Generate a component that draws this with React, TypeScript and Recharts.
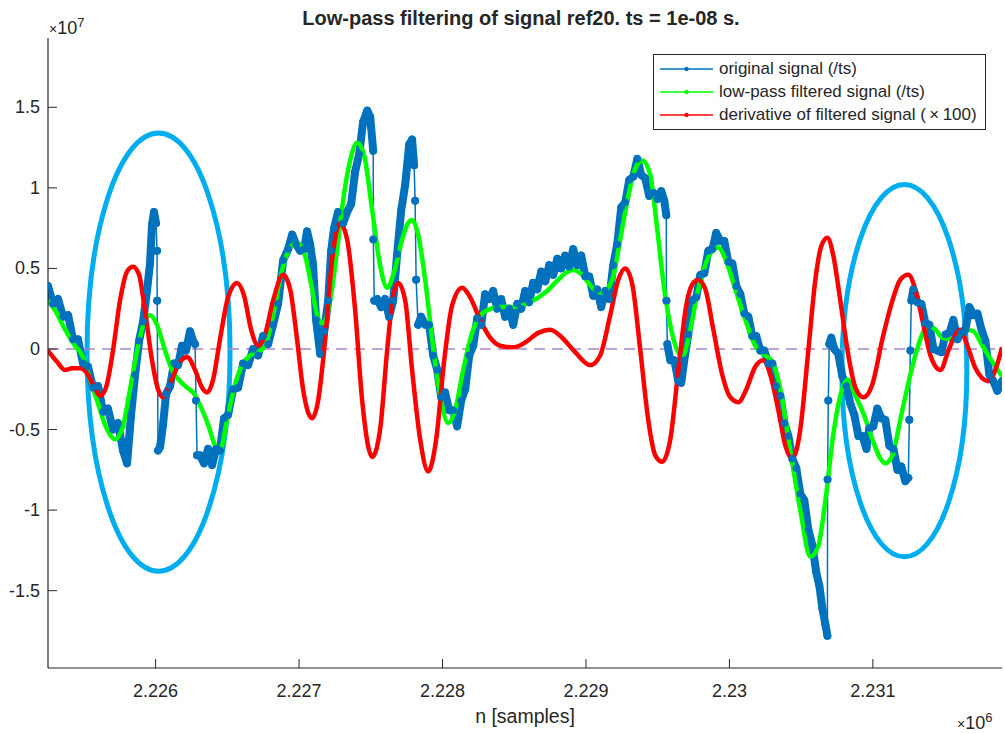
import { LineChart, Line, XAxis, YAxis, ReferenceLine, ReferenceArea, Legend } from 'recharts';

const AXIS = '#262626';
const BLUE = '#0072BD';
const GREEN = '#00FF00';
const RED = '#FF0000';
const RING = '#00AEEF';

const X_DOMAIN: [number, number] = [2225250, 2231900];
const Y_DOMAIN: [number, number] = [-1.98, 1.93];
const xTicks = [2226000, 2227000, 2228000, 2229000, 2230000, 2231000];
const yTicks = [-1.5, -1, -0.5, 0, 0.5, 1, 1.5];

const seriesNames = [
  'original signal (/ts)',
  'low-pass filtered signal (/ts)',
  'derivative of filtered signal (\u2009\u00D7\u2009100)',
];

// sample index n, values in units of 1e7
const origN = [
  2225250, 2225285, 2225320, 2225355, 2225390, 2225424, 2225459, 2225494, 2225529, 2225564,
  2225599, 2225634, 2225668, 2225703, 2225738, 2225773, 2225801, 2225829, 2225857, 2225885,
  2225913, 2225940, 2225961, 2225975, 2225989, 2226003, 2226010, 2226011, 2226017, 2226031,
  2226052, 2226073, 2226101, 2226129, 2226157, 2226184, 2226212, 2226240, 2226261, 2226275,
  2226282, 2226289, 2226310, 2226338, 2226366, 2226394, 2226422, 2226449, 2226477, 2226505,
  2226540, 2226575, 2226610, 2226645, 2226680, 2226714, 2226749, 2226784, 2226819, 2226854,
  2226889, 2226924, 2226952, 2226979, 2227007, 2227035, 2227056, 2227077, 2227098, 2227119,
  2227147, 2227175, 2227203, 2227224, 2227244, 2227272, 2227307, 2227335, 2227363, 2227391,
  2227419, 2227447, 2227475, 2227496, 2227517, 2227518, 2227524, 2227545, 2227572, 2227600,
  2227628, 2227656, 2227684, 2227712, 2227740, 2227768, 2227788, 2227802, 2227809, 2227816,
  2227830, 2227851, 2227879, 2227907, 2227935, 2227963, 2227991, 2228018, 2228046, 2228074,
  2228102, 2228130, 2228158, 2228186, 2228214, 2228242, 2228270, 2228297, 2228325, 2228353,
  2228381, 2228409, 2228437, 2228465, 2228493, 2228521, 2228549, 2228576, 2228604, 2228632,
  2228660, 2228688, 2228716, 2228744, 2228772, 2228800, 2228827, 2228855, 2228883, 2228911,
  2228939, 2228967, 2228995, 2229023, 2229051, 2229078, 2229106, 2229134, 2229162, 2229190,
  2229218, 2229246, 2229274, 2229302, 2229330, 2229358, 2229385, 2229413, 2229441, 2229469,
  2229497, 2229525, 2229546, 2229560, 2229561, 2229567, 2229588, 2229616, 2229644, 2229664,
  2229685, 2229713, 2229741, 2229769, 2229797, 2229825, 2229853, 2229881, 2229908, 2229936,
  2229964, 2229992, 2230020, 2230048, 2230076, 2230104, 2230132, 2230159, 2230187, 2230215,
  2230243, 2230271, 2230299, 2230327, 2230355, 2230383, 2230411, 2230438, 2230466, 2230494,
  2230522, 2230550, 2230578, 2230606, 2230627, 2230648, 2230669, 2230683, 2230684, 2230689,
  2230696, 2230710, 2230731, 2230759, 2230787, 2230815, 2230843, 2230871, 2230899, 2230927,
  2230955, 2230975, 2231003, 2231031, 2231059, 2231087, 2231115, 2231143, 2231171, 2231198,
  2231226, 2231247, 2231254, 2231261, 2231268, 2231282, 2231310, 2231338, 2231366, 2231394,
  2231422, 2231450, 2231478, 2231506, 2231534, 2231561, 2231589, 2231617, 2231645, 2231673,
  2231701, 2231729, 2231757, 2231784, 2231812, 2231840, 2231868, 2231900,
];
const origV = [
  0.39, 0.28, 0.31, 0.20, 0.21, 0.06, 0.06, -0.09, -0.11, -0.24,
  -0.23, -0.39, -0.37, -0.50, -0.46, -0.63, -0.71, -0.41, -0.16, 0.05,
  0.17, 0.36, 0.53, 0.77, 0.85, 0.78, 0.61, 0.30, -0.63, -0.61,
  -0.47, -0.28, -0.23, -0.09, -0.10, 0.02, -0.01, 0.11, 0.05, 0.03,
  -0.32, -0.66, -0.66, -0.71, -0.62, -0.72, -0.62, -0.63, -0.43, -0.41,
  -0.25, -0.24, -0.09, -0.10, 0.00, -0.04, 0.08, 0.03, 0.15, 0.28,
  0.55, 0.62, 0.71, 0.65, 0.61, 0.62, 0.73, 0.65, 0.52, 0.18,
  -0.03, 0.11, 0.30, 0.61, 0.75, 0.85, 0.78, 0.85, 0.90, 1.10,
  1.21, 1.41, 1.48, 1.44, 1.23, 0.68, 0.30, 0.31, 0.26, 0.31,
  0.20, 0.30, 0.59, 0.86, 1.02, 1.27, 1.30, 1.14, 0.92, 0.43,
  0.15, 0.20, 0.15, 0.15, -0.04, -0.13, -0.30, -0.27, -0.38, -0.38,
  -0.48, -0.32, -0.25, -0.04, 0.02, 0.19, 0.15, 0.34, 0.31, 0.36,
  0.25, 0.31, 0.20, 0.25, 0.15, 0.28, 0.25, 0.36, 0.29, 0.41,
  0.37, 0.48, 0.42, 0.52, 0.46, 0.56, 0.50, 0.58, 0.51, 0.62,
  0.52, 0.58, 0.45, 0.45, 0.33, 0.37, 0.26, 0.36, 0.31, 0.52,
  0.65, 0.88, 0.91, 1.05, 1.07, 1.18, 1.08, 1.06, 0.95, 0.97,
  0.93, 0.98, 0.92, 0.83, 0.30, 0.03, -0.07, -0.07, -0.20, -0.21,
  -0.07, 0.09, 0.30, 0.32, 0.46, 0.47, 0.61, 0.62, 0.72, 0.67,
  0.67, 0.54, 0.53, 0.39, 0.34, 0.22, 0.20, 0.08, 0.08, -0.01,
  -0.01, -0.09, -0.09, -0.23, -0.29, -0.46, -0.54, -0.68, -0.74, -0.90,
  -0.94, -1.12, -1.22, -1.39, -1.47, -1.61, -1.71, -1.78, -0.81, -0.32,
  0.03, 0.07, 0.00, -0.03, -0.17, -0.23, -0.34, -0.41, -0.54, -0.54,
  -0.62, -0.49, -0.48, -0.37, -0.43, -0.44, -0.60, -0.62, -0.75, -0.73,
  -0.82, -0.80, -0.44, -0.01, 0.30, 0.37, 0.29, 0.28, 0.16, 0.15,
  0.00, -0.01, -0.02, 0.09, 0.10, 0.18, 0.06, 0.10, 0.12, 0.26,
  0.21, 0.22, 0.12, 0.05, -0.16, -0.20, -0.26, -0.20,
];

const lowN = [
  2225250, 2225299, 2225369, 2225438, 2225494, 2225543, 2225592, 2225647, 2225717, 2225766,
  2225822, 2225878, 2225926, 2225961, 2226010, 2226066, 2226115, 2226171, 2226219, 2226261,
  2226310, 2226366, 2226415, 2226449, 2226498, 2226554, 2226603, 2226659, 2226714, 2226763,
  2226819, 2226882, 2226938, 2226986, 2227042, 2227091, 2227133, 2227168, 2227217, 2227265,
  2227307, 2227356, 2227405, 2227454, 2227510, 2227565, 2227614, 2227663, 2227719, 2227753,
  2227788, 2227830, 2227879, 2227928, 2227984, 2228039, 2228088, 2228144, 2228193, 2228249,
  2228311, 2228402, 2228493, 2228611, 2228716, 2228807, 2228855, 2228911, 2228974, 2229044,
  2229113, 2229183, 2229239, 2229295, 2229344, 2229393, 2229448, 2229497, 2229546, 2229602,
  2229671, 2229727, 2229783, 2229839, 2229881, 2229922, 2229971, 2230041, 2230111, 2230180,
  2230250, 2230299, 2230355, 2230424, 2230494, 2230564, 2230620, 2230669, 2230724, 2230773,
  2230822, 2230878, 2230934, 2230996, 2231052, 2231087, 2231136, 2231191, 2231261, 2231331,
  2231380, 2231436, 2231484, 2231540, 2231596, 2231652, 2231701, 2231764, 2231833, 2231900,
];
const lowV = [
  0.30, 0.24, 0.12, 0.02, -0.05, -0.19, -0.32, -0.47, -0.56, -0.50,
  -0.25, 0.02, 0.18, 0.21, 0.15, -0.01, -0.13, -0.20, -0.24, -0.27,
  -0.35, -0.47, -0.60, -0.63, -0.44, -0.22, -0.10, -0.04, -0.02, 0.02,
  0.21, 0.49, 0.63, 0.66, 0.58, 0.37, 0.19, 0.16, 0.30, 0.61,
  0.92, 1.17, 1.28, 1.20, 0.86, 0.52, 0.38, 0.48, 0.68, 0.77,
  0.80, 0.71, 0.43, 0.06, -0.29, -0.46, -0.38, -0.13, 0.06, 0.19,
  0.24, 0.26, 0.26, 0.29, 0.35, 0.43, 0.47, 0.49, 0.46, 0.38,
  0.35, 0.43, 0.68, 0.95, 1.12, 1.17, 1.08, 0.74, 0.37, 0.09,
  -0.05, 0.12, 0.37, 0.54, 0.61, 0.63, 0.56, 0.37, 0.18, 0.02,
  -0.04, -0.08, -0.25, -0.63, -1.00, -1.29, -1.22, -0.94, -0.53, -0.29,
  -0.19, -0.29, -0.40, -0.56, -0.68, -0.71, -0.66, -0.44, -0.16, 0.06,
  0.15, 0.12, 0.07, 0.06, 0.09, 0.12, 0.11, 0.02, -0.08, -0.17,
];

const derivN = [
  2225250, 2225313, 2225369, 2225417, 2225473, 2225529, 2225578, 2225613, 2225654, 2225703,
  2225752, 2225801, 2225843, 2225885, 2225926, 2225975, 2226017, 2226052, 2226101, 2226157,
  2226219, 2226275, 2226324, 2226359, 2226401, 2226449, 2226505, 2226568, 2226617, 2226666,
  2226714, 2226763, 2226819, 2226889, 2226938, 2226986, 2227028, 2227091, 2227133, 2227182,
  2227230, 2227286, 2227335, 2227391, 2227440, 2227510, 2227565, 2227614, 2227656, 2227691,
  2227740, 2227788, 2227844, 2227900, 2227956, 2228012, 2228067, 2228137, 2228193, 2228263,
  2228332, 2228402, 2228493, 2228576, 2228667, 2228751, 2228834, 2228925, 2229030, 2229099,
  2229169, 2229225, 2229274, 2229323, 2229379, 2229434, 2229483, 2229532, 2229588, 2229644,
  2229699, 2229741, 2229783, 2229832, 2229888, 2229950, 2230006, 2230062, 2230118, 2230180,
  2230236, 2230285, 2230341, 2230390, 2230438, 2230494, 2230550, 2230599, 2230641, 2230683,
  2230724, 2230773, 2230829, 2230878, 2230934, 2230996, 2231066, 2231136, 2231191, 2231247,
  2231296, 2231345, 2231401, 2231471, 2231526, 2231575, 2231610, 2231659, 2231715, 2231805,
  2231854, 2231900,
];
const derivV = [
  -0.01, -0.08, -0.13, -0.12, -0.12, -0.16, -0.25, -0.29, -0.24, -0.01,
  0.30, 0.48, 0.51, 0.46, 0.24, -0.07, -0.25, -0.30, -0.22, -0.10,
  -0.05, -0.13, -0.24, -0.27, -0.19, 0.06, 0.32, 0.41, 0.33, 0.12,
  0.02, 0.09, 0.30, 0.46, 0.37, 0.06, -0.25, -0.43, -0.32, 0.06,
  0.55, 0.78, 0.68, 0.24, -0.32, -0.67, -0.50, -0.01, 0.33, 0.41,
  0.30, -0.13, -0.56, -0.76, -0.56, -0.07, 0.27, 0.38, 0.32, 0.18,
  0.07, 0.02, 0.01, 0.04, 0.10, 0.12, 0.07, -0.02, -0.10, -0.04,
  0.21, 0.43, 0.50, 0.40, -0.01, -0.44, -0.66, -0.70, -0.56, -0.13,
  0.27, 0.40, 0.43, 0.37, 0.12, -0.16, -0.30, -0.33, -0.25, -0.11,
  -0.07, -0.16, -0.38, -0.60, -0.68, -0.50, -0.01, 0.43, 0.64, 0.69,
  0.58, 0.30, -0.04, -0.24, -0.30, -0.22, 0.06, 0.30, 0.43, 0.46,
  0.37, 0.18, -0.04, -0.13, -0.01, 0.09, 0.12, 0.02, -0.12, -0.20,
  -0.13, 0.01,
];

// highlighted regions (n from/to, value from/to)
const ringN = [[2225522, 2226519], [2230784, 2231655]];
const ringV = [[-1.38, 1.34], [-1.29, 1.02]];

const zip = (n: number[], v: number[]) => n.map((x, i) => ({ n: x, v: v[i] as number | null }));
const origData = zip(origN, origV);
const lowData = zip(lowN, lowV);
const derivData = zip(derivN, derivV);

// The dense noisy stretches look like a thick band in the original plot; the sparse
// jumps between them are thin. Break the band wherever consecutive samples jump steeply.
function bandOf(data: { n: number; v: number | null }[]) {
  const out: { n: number; v: number | null }[] = [];
  data.forEach((d, i) => {
    out.push(d);
    const next = data[i + 1];
    if (next && Math.abs((next.v as number) - (d.v as number)) / Math.max(next.n - d.n, 1) > 0.019) {
      out.push({ n: (d.n + next.n) / 2, v: null });
    }
  });
  return out;
}
const bandData = bandOf(origData);

const fmtX = (v: number) => String(v / 1e6);
const fmtY = (v: number) => String(v);

function XTick({ x, y, payload }: any) {
  return (
    <g>
      <line x1={x} y1={y} x2={x} y2={y - 9} stroke={AXIS} strokeWidth={1} />
      <text x={x} y={y + 29} textAnchor="middle" fontSize={18} fill={AXIS}>
        {fmtX(payload.value)}
      </text>
    </g>
  );
}

function YTick({ x, y, payload }: any) {
  return (
    <g>
      <line x1={x} y1={y} x2={x + 9} y2={y} stroke={AXIS} strokeWidth={1} />
      <text x={x - 8} y={y + 6} textAnchor="end" fontSize={18} fill={AXIS}>
        {fmtY(payload.value)}
      </text>
    </g>
  );
}

function Ring(props: any) {
  const { x, y, width, height } = props;
  return (
    <ellipse
      cx={x + width / 2}
      cy={y + height / 2}
      rx={width / 2}
      ry={height / 2}
      fill="none"
      stroke={RING}
      strokeWidth={5}
    />
  );
}

function LegendBox({ payload }: any) {
  const items = [...(payload ?? [])]
    .filter((e: any) => seriesNames.includes(e.value))
    .sort((a: any, b: any) => seriesNames.indexOf(a.value) - seriesNames.indexOf(b.value));
  return (
    <div
      style={{
        border: `1px solid ${AXIS}`,
        background: '#fff',
        padding: '2px 8px 3px 6px',
        fontSize: 17,
        lineHeight: '23px',
        color: AXIS,
        whiteSpace: 'nowrap',
      }}
    >
      {items.map((e: any) => (
        <div key={e.value} style={{ display: 'flex', alignItems: 'center' }}>
          <svg width={53} height={10} style={{ marginRight: 6 }}>
            <line x1={0} y1={5} x2={53} y2={5} stroke={e.color} strokeWidth={1.5} />
            <circle cx={26.5} cy={5} r={2.2} fill={e.color} />
          </svg>
          <span>{e.value}</span>
        </div>
      ))}
    </div>
  );
}

export default function App() {
  return (
    <div
      style={{
        position: 'absolute',
        left: 0,
        top: 0,
        width: 1005,
        height: 733,
        background: '#fff',
        fontFamily: '"Liberation Sans", Arial, sans-serif',
        color: AXIS,
      }}
    >
      <div
        style={{
          position: 'absolute',
          left: 0,
          width: 1042,
          top: 7,
          textAlign: 'center',
          fontWeight: 'bold',
          fontSize: 20,
        }}
      >
        Low-pass filtering of signal ref20. ts = 1e-08 s.
      </div>
      <div style={{ position: 'absolute', left: 49, top: 15, fontSize: 18 }}>
        <span style={{ fontSize: 14 }}>{'\u00D7'}</span>10<sup style={{ fontSize: 13 }}>7</sup>
      </div>
      <div style={{ position: 'absolute', left: 957, top: 710, fontSize: 18 }}>
        <span style={{ fontSize: 14 }}>{'\u00D7'}</span>10<sup style={{ fontSize: 13 }}>6</sup>
      </div>
      <div
        style={{
          position: 'absolute',
          left: 0,
          width: 1050,
          top: 705,
          textAlign: 'center',
          fontSize: 19.5,
        }}
      >
        n [samples]
      </div>

      <LineChart
        width={1005}
        height={733}
        margin={{ top: 38, right: 3, bottom: 0, left: 0 }}
        style={{ position: 'absolute', left: 0, top: 0 }}
      >
        <XAxis
          dataKey="n"
          type="number"
          domain={X_DOMAIN}
          ticks={xTicks}
          allowDataOverflow
          height={65}
          tickLine={false}
          tickSize={0}
          tickMargin={0}
          tick={<XTick />}
          axisLine={{ stroke: AXIS, strokeWidth: 1.2 }}
        />
        <YAxis
          dataKey="v"
          type="number"
          domain={Y_DOMAIN}
          ticks={yTicks}
          allowDataOverflow
          width={48}
          tickLine={false}
          tickSize={0}
          tickMargin={0}
          tick={<YTick />}
          axisLine={{ stroke: AXIS, strokeWidth: 1.2 }}
        />
        <ReferenceLine y={0} stroke="#A886C6" strokeWidth={1.5} strokeDasharray="11 7" />
        <Line
          data={bandData}
          dataKey="v"
          name="band"
          type="linear"
          stroke={BLUE}
          strokeWidth={8}
          strokeLinejoin="round"
          strokeLinecap="round"
          connectNulls={false}
          dot={false}
          legendType="none"
          isAnimationActive={false}
        />
        <Line
          data={origData}
          dataKey="v"
          name={seriesNames[0]}
          type="linear"
          stroke={BLUE}
          strokeWidth={1.5}
          dot={{ r: 3.6, fill: BLUE, stroke: BLUE, strokeWidth: 0.5 }}
          isAnimationActive={false}
        />
        <Line
          data={lowData}
          dataKey="v"
          name={seriesNames[1]}
          type="monotone"
          stroke={GREEN}
          strokeWidth={4.5}
          dot={false}
          isAnimationActive={false}
        />
        <Line
          data={derivData}
          dataKey="v"
          name={seriesNames[2]}
          type="monotone"
          stroke={RED}
          strokeWidth={4.5}
          dot={false}
          isAnimationActive={false}
        />
        {ringN.map((r, i) => (
          <ReferenceArea
            key={i}
            x1={r[0]}
            x2={r[1]}
            y1={ringV[i][0]}
            y2={ringV[i][1]}
            shape={<Ring />}
          />
        ))}
        <Legend
          layout="vertical"
          align="center"
          verticalAlign="middle"
          content={<LegendBox />}
          wrapperStyle={{ left: 653, top: 54, width: 'auto', height: 'auto' }}
        />
      </LineChart>
    </div>
  );
}
